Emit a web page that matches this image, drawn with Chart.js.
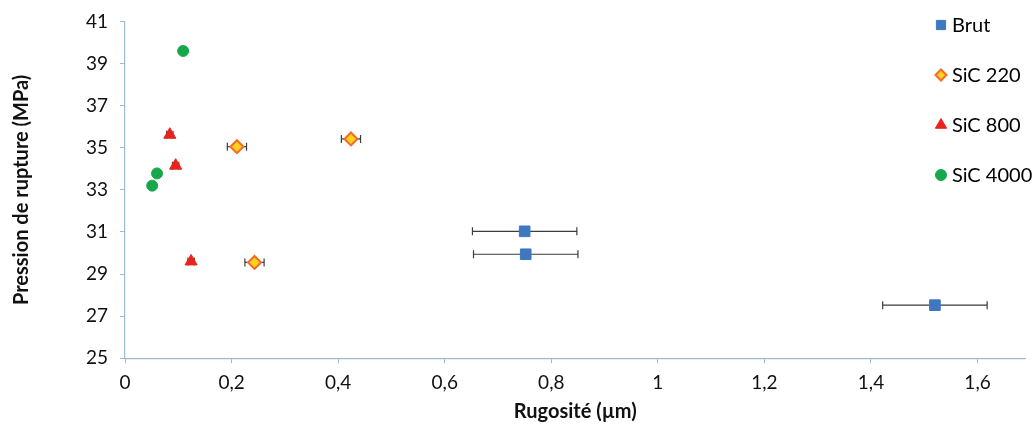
<!DOCTYPE html>
<html>
<head>
<meta charset="utf-8">
<script src="https://cdn.jsdelivr.net/npm/chart.js@4.4.0/dist/chart.umd.min.js"></script>
<style>
  html, body { margin: 0; padding: 0; background: #fff; }
  #wrap { width: 1034px; height: 428px; position: relative; }
</style>
</head>
<body>
<div id="wrap"><canvas id="chart" width="1034" height="428"></canvas></div>
<script>
// Data
const seriesNames = ["Brut", "SiC 220", "SiC 800", "SiC 4000"];

const brutX = [0.750, 0.752, 1.520];
const brutY = [31.03, 29.94, 27.52];
const brutErr = [0.098, 0.098, 0.098];

const sic220X = [0.210, 0.424, 0.243];
const sic220Y = [35.05, 35.42, 29.55];
const sic220Err = [0.018, 0.018, 0.018];

const sic800X = [0.084, 0.095, 0.124];
const sic800Y = [35.62, 34.15, 29.60];
const sic800Err = [0.006, 0.006, 0.006];

const sic4000X = [0.109, 0.060, 0.051];
const sic4000Y = [39.60, 33.78, 33.20];

const xTicks = [0, 0.2, 0.4, 0.6, 0.8, 1, 1.2, 1.4, 1.6];
const yTicks = [25, 27, 29, 31, 33, 35, 37, 39, 41];

const toPoints = (xs, ys, errs) => xs.map((x, i) => ({ x, y: ys[i], err: errs ? errs[i] : 0 }));

const axisColor = "#9dbcd4";
const font = "Lato, 'Open Sans', sans-serif";

// horizontal error bars, drawn under the markers
const errorBars = {
  id: "errorBars",
  beforeDatasetsDraw(chart) {
    const { ctx, scales: { x, y } } = chart;
    ctx.save();
    ctx.strokeStyle = "#3d3d3d";
    ctx.lineWidth = 1.2;
    chart.data.datasets.forEach(ds => {
      ds.data.forEach(p => {
        if (!p.err) return;
        const py = y.getPixelForValue(p.y);
        const x1 = x.getPixelForValue(p.x - p.err);
        const x2 = x.getPixelForValue(p.x + p.err);
        ctx.beginPath();
        ctx.moveTo(x1, py); ctx.lineTo(x2, py);
        ctx.moveTo(x1, py - 4); ctx.lineTo(x1, py + 4);
        ctx.moveTo(x2, py - 4); ctx.lineTo(x2, py + 4);
        ctx.stroke();
      });
    });
    ctx.restore();
  }
};

// legend on the right, inside the plot area
const sideLegend = {
  id: "sideLegend",
  afterDraw(chart) {
    const { ctx } = chart;
    ctx.save();
    ctx.font = "20px " + font;
    ctx.textBaseline = "middle";
    const legY = [25, 75, 125, 175];
    chart.data.datasets.forEach((ds, i) => {
      const opts = {
        pointStyle: ds.pointStyle,
        radius: ds.legendRadius,
        borderWidth: ds.borderWidth
      };
      ctx.fillStyle = ds.backgroundColor;
      ctx.strokeStyle = ds.borderColor;
      ctx.lineWidth = ds.borderWidth;
      Chart.helpers.drawPoint(ctx, opts, 941, legY[i]);
      ctx.fillStyle = "#000";
      ctx.fillText(seriesNames[i], 952, legY[i] + 1);
    });
    ctx.restore();
  }
};

new Chart(document.getElementById("chart"), {
  type: "scatter",
  data: {
    datasets: [
      {
        label: seriesNames[0], data: toPoints(brutX, brutY, brutErr),
        pointStyle: "rect", pointRadius: 7.5, legendRadius: 6.5,
        backgroundColor: "#3f78c0", borderColor: "#3f78c0", borderWidth: 1
      },
      {
        label: seriesNames[1], data: toPoints(sic220X, sic220Y, sic220Err),
        pointStyle: "rectRot", pointRadius: 6.5, legendRadius: 5.5,
        backgroundColor: "#ffd21f", borderColor: "#f36a2a", borderWidth: 2
      },
      {
        label: seriesNames[2], data: toPoints(sic800X, sic800Y, sic800Err),
        pointStyle: "triangle", pointRadius: 7, legendRadius: 6.5,
        backgroundColor: "#e8231d", borderColor: "#e8231d", borderWidth: 1
      },
      {
        label: seriesNames[3], data: toPoints(sic4000X, sic4000Y),
        pointStyle: "circle", pointRadius: 5.5, legendRadius: 5.5,
        backgroundColor: "#15a84a", borderColor: "#15a84a", borderWidth: 1
      }
    ]
  },
  options: {
    responsive: false,
    animation: false,
    layout: { padding: { left: 10, right: 7, top: 8, bottom: 0 } },
    plugins: {
      legend: { display: false },
      tooltip: { enabled: false }
    },
    scales: {
      x: {
        type: "linear", min: 0, max: 1.69,
        afterBuildTicks: axis => { axis.ticks = xTicks.map(v => ({ value: v })); },
        ticks: {
          color: "#111", font: { family: font, size: 19 }, padding: 8,
          callback: v => String(Math.round(v * 10) / 10).replace(".", ",")
        },
        grid: { drawOnChartArea: false, drawTicks: true, tickLength: 5, color: axisColor },
        border: { color: axisColor, width: 1.2 },
        title: {
          display: true, text: "Rugosité (µm)", color: "#111",
          font: { family: font, size: 20, weight: "bold" }, padding: { top: -2 }
        }
      },
      y: {
        type: "linear", min: 25, max: 41,
        afterBuildTicks: axis => { axis.ticks = yTicks.map(v => ({ value: v })); },
        ticks: { color: "#111", font: { family: font, size: 19, lineHeight: 1.0 }, padding: 12 },
        grid: { drawOnChartArea: false, drawTicks: true, tickLength: 5, color: axisColor },
        border: { color: axisColor, width: 1.2 },
        title: {
          display: true, text: "Pression de rupture (MPa)", color: "#111",
          font: { family: font, size: 20, weight: "bold" }, padding: { top: 0, bottom: 40 }
        }
      }
    }
  },
  plugins: [errorBars, sideLegend]
});
</script>
</body>
</html>
